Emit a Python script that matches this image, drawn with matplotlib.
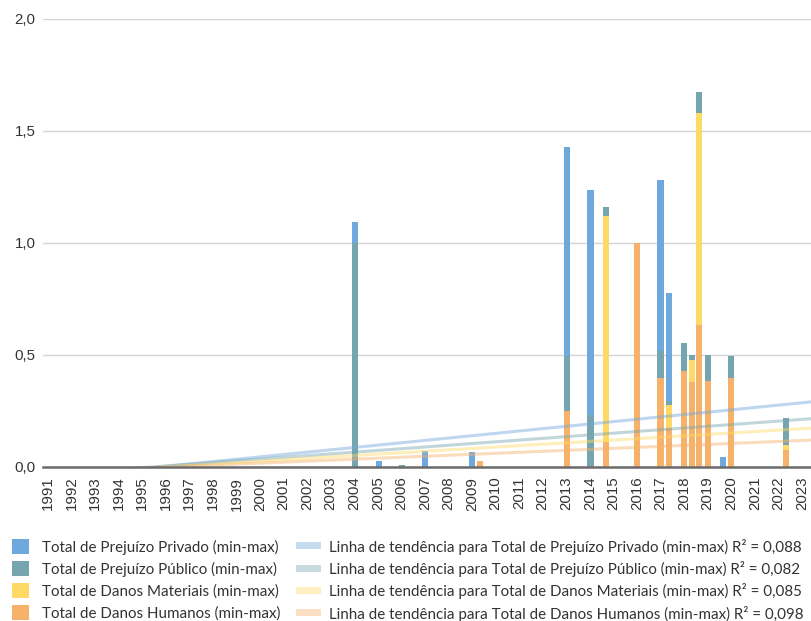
import numpy as np
import matplotlib
matplotlib.use("Agg")
import matplotlib.pyplot as plt
from matplotlib.patches import Patch
from matplotlib.lines import Line2D
from matplotlib.ticker import FuncFormatter

# Eventos (posicao em anos fracionarios) e totais normalizados (min-max)
event_year = [2004.03, 2005.04, 2006.03, 2006.99, 2009.00, 2009.34,
              2013.02, 2014.03, 2014.68, 2015.99, 2017.00, 2017.35,
              2017.98, 2018.35, 2018.63, 2019.00, 2019.64, 2019.98, 2022.31]
danos_humanos = [0.0, 0.0, 0.0, 0.0, 0.0, 0.027,
                 0.25, 0.0, 0.113, 1.0, 0.397, 0.174,
                 0.428, 0.379, 0.634, 0.384, 0.0, 0.397, 0.076]
danos_materiais = [0.0, 0.0, 0.0, 0.0, 0.0, 0.0,
                   0.0, 0.0, 1.007, 0.0, 0.0, 0.103,
                   0.0, 0.099, 0.945, 0.0, 0.0, 0.0, 0.022]
prejuizo_publico = [1.0, 0.0, 0.008, 0.0, 0.0, 0.0,
                    0.245, 0.232, 0.04, 0.0, 0.122, 0.019,
                    0.125, 0.022, 0.096, 0.116, 0.0, 0.099, 0.121]
prejuizo_privado = [0.095, 0.027, 0.0, 0.072, 0.067, 0.0,
                    0.935, 1.005, 0.0, 0.0, 0.761, 0.48,
                    0.0, 0.0, 0.0, 0.0, 0.046, 0.0, 0.0]

# Linhas de tendencia: y = slope * (ano - ano_zero)
trend_zero_year = [1995.7, 1995.4, 1995.9, 1996.1]
trend_slope = [0.0105, 0.0077, 0.0063, 0.0044]
r2_values = ["0,088", "0,082", "0,085", "0,098"]

series_names = ["Total de Prejuízo Privado (min-max)",
                "Total de Prejuízo Público (min-max)",
                "Total de Danos Materiais (min-max)",
                "Total de Danos Humanos (min-max)"]
colors = ["#6fa8dc", "#76a5af", "#ffd966", "#f6b26b"]

years = list(range(1991, 2024))

fig = plt.figure(figsize=(8.12, 6.21), dpi=100)
ax = fig.add_axes([0.053, 0.248, 0.947, 0.7215])

x = np.array(event_year)
stack = [danos_humanos, danos_materiais, prejuizo_publico, prejuizo_privado]
stack_colors = [colors[3], colors[2], colors[1], colors[0]]
bottom = np.zeros(len(x))
for vals, c in zip(stack, stack_colors):
    v = np.array(vals)
    ax.bar(x, v, width=0.26, bottom=bottom, color=c, zorder=2, linewidth=0)
    bottom += v

xmin, xmax = 1990.79, 2023.43
xs = np.array([xmin, xmax])
for x0, s, c in zip(trend_zero_year, trend_slope, colors):
    ax.plot(xs, s * (xs - x0), color=c, alpha=0.45, lw=2.2, zorder=3,
            solid_capstyle="butt")

ax.set_xlim(xmin, xmax)
ax.set_ylim(0, 2.0)
ax.set_yticks([0, 0.5, 1.0, 1.5, 2.0])
ax.yaxis.set_major_formatter(FuncFormatter(lambda v, p: f"{v:.1f}".replace(".", ",")))
ax.set_xticks(years)
ax.set_xticklabels([str(y) for y in years], rotation=90)
for lbl in ax.get_xticklabels() + ax.get_yticklabels():
    lbl.set_fontfamily("Liberation Sans")
ax.tick_params(axis="both", length=0, labelsize=10.8, colors="#333333")
ax.tick_params(axis="x", pad=7)
ax.tick_params(axis="y", pad=5.5)
ax.grid(axis="y", color="#d4d4d4", lw=1, zorder=0)
for side in ["top", "right", "left"]:
    ax.spines[side].set_visible(False)
ax.spines["bottom"].set_color("#6b6b6b")
ax.spines["bottom"].set_linewidth(1.8)
ax.spines["bottom"].set_zorder(4)

handles = [Patch(facecolor=c, edgecolor="none") for c in colors]
handles += [Line2D([0], [0], color=c, alpha=0.4, lw=5) for c in colors]
labels = series_names + [f"Linha de tendência para {n} R² = {r}"
                         for n, r in zip(series_names, r2_values)]
fig.legend(handles, labels, loc="upper left", bbox_to_anchor=(0.005, 0.145),
           ncol=2, frameon=False, prop={"family": "Lato", "size": 10.9},
           handlelength=1.15, handleheight=1.15, handletextpad=0.85,
           labelspacing=0.42, columnspacing=1.25, borderpad=0,
           labelcolor="#333333")

fig.savefig("out.png", dpi=100)
